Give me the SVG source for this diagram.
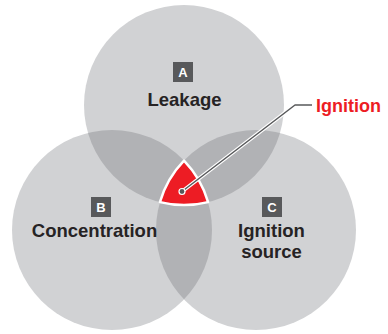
<svg xmlns="http://www.w3.org/2000/svg" width="388" height="334" viewBox="0 0 388 334">
<style>
.circ{fill:#d1d2d4}
.lens{fill:#b1b2b5}
.lbl{font-family:"Liberation Sans",Arial,sans-serif;font-weight:bold;font-size:18.5px;fill:#262324;text-anchor:middle}
.box{fill:#58595b}
.boxt{font-family:"Liberation Sans",Arial,sans-serif;font-weight:bold;font-size:13px;fill:#ffffff;text-anchor:middle}
</style>
<defs>
<clipPath id="clipA"><circle cx="184" cy="105" r="100"/></clipPath>
<clipPath id="clipC"><circle cx="256" cy="230" r="100"/></clipPath>
</defs>
<rect width="388" height="334" fill="#ffffff"/>
<g id="circleA"><circle class="circ" cx="184" cy="105" r="100"/></g>
<g id="circleB"><circle class="circ" cx="112" cy="230" r="100"/></g>
<g id="circleC"><circle class="circ" cx="256" cy="230" r="100"/></g>
<g id="overlaps">
<circle class="lens" cx="112" cy="230" r="100" clip-path="url(#clipA)"/>
<circle class="lens" cx="256" cy="230" r="100" clip-path="url(#clipA)"/>
<circle class="lens" cx="112" cy="230" r="100" clip-path="url(#clipC)"/>
</g>
<g id="ignition-zone">
<path d="M184,160.6 A100,100 0 0 1 208.1,202.1 A100,100 0 0 1 159.9,202.1 A100,100 0 0 1 184,160.6 Z" fill="#ed1c24" stroke="#ffffff" stroke-width="2.5" stroke-linejoin="round"/>
</g>
<g id="nodeA">
<rect class="box" x="173" y="62" width="20" height="20"/>
<text class="boxt" x="183" y="77">A</text>
<text class="lbl" x="184.5" y="105.5">Leakage</text>
</g>
<g id="nodeB">
<rect class="box" x="91" y="197" width="20" height="20"/>
<text class="boxt" x="101" y="212">B</text>
<text class="lbl" x="94.5" y="236.5">Concentration</text>
</g>
<g id="nodeC">
<rect class="box" x="262" y="197" width="20" height="20"/>
<text class="boxt" x="272" y="212">C</text>
<text class="lbl" x="271.5" y="236.5">Ignition</text>
<text class="lbl" x="271.5" y="257.5">source</text>
</g>
<g id="connectors">
<polyline points="182,191.5 295,105 312,105" fill="none" stroke="#ffffff" stroke-width="3.5" stroke-linejoin="round"/>
<polyline points="182,191.5 295,105 312,105" fill="none" stroke="#58595b" stroke-width="1.5" stroke-linejoin="round"/>
<circle cx="182" cy="191.5" r="3" fill="#58595b" stroke="#ffffff" stroke-width="1.2"/>
</g>
<g id="label-ignition">
<text x="316" y="112" font-family="Liberation Sans, Arial, sans-serif" font-weight="bold" font-size="18px" fill="#ed1c24">Ignition</text>
</g>
</svg>
